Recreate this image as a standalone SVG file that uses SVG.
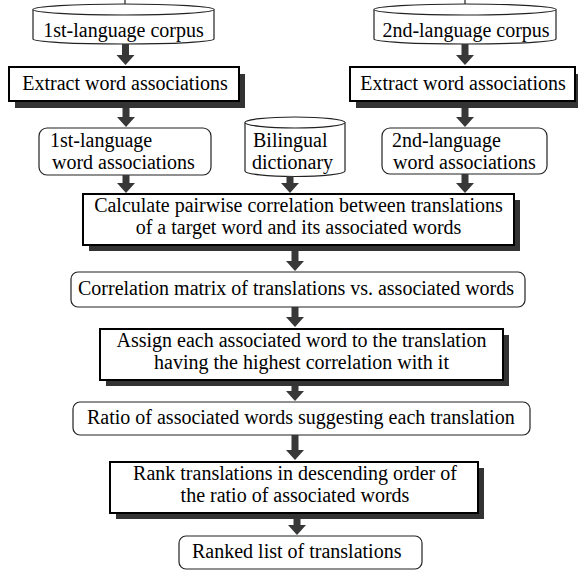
<svg xmlns="http://www.w3.org/2000/svg" width="578" height="571" viewBox="0 0 578 571">
<style>
text{font-family:"Liberation Serif","Times New Roman",serif;font-size:20px;fill:#000}
.c{text-anchor:middle}
.proc{fill:#fff;stroke:#000;stroke-width:2}
.shadow{fill:#333}
.data{fill:#fff;stroke:#222;stroke-width:1.2}
.cyl{fill:#fff;stroke:#222;stroke-width:1.2}
.arr{fill:#383838}
</style>
<rect width="578" height="571" fill="#fff"/>

<g id="corpus1">
<line x1="125" y1="0" x2="125" y2="4" stroke="#222" stroke-width="1.2"/>
<path class="cyl" d="M33,9.5 A90.5,5.5 0 0 1 214,9.5 L214,39 A90.5,5 0 0 1 33,39 Z"/>
<path class="cyl" fill="none" d="M33,9.5 A90.5,5.5 0 0 0 214,9.5"/>
<text x="123.5" y="37" class="c">1st-language corpus</text>
</g>

<g id="corpus2">
<line x1="465" y1="0" x2="465" y2="4" stroke="#222" stroke-width="1.2"/>
<path class="cyl" d="M374,9.5 A91,5.5 0 0 1 556,9.5 L556,39 A91,5 0 0 1 374,39 Z"/>
<path class="cyl" fill="none" d="M374,9.5 A91,5.5 0 0 0 556,9.5"/>
<text x="466" y="37" class="c">2nd-language corpus</text>
</g>

<g id="extract1">
<rect class="shadow" x="15" y="74" width="230" height="34"/>
<rect class="proc" x="9" y="67" width="230" height="34"/>
<text x="125" y="90" class="c">Extract word associations</text>
</g>

<g id="extract2">
<rect class="shadow" x="356" y="74" width="225" height="34"/>
<rect class="proc" x="350" y="67" width="225" height="34"/>
<text x="463" y="90" class="c">Extract word associations</text>
</g>

<g id="assoc1">
<rect class="data" x="39" y="128" width="172" height="47" rx="8"/>
<text x="50" y="146.5">1st-language</text>
<text x="52" y="169">word associations</text>
</g>

<g id="dictionary">
<path class="cyl" d="M245,122.5 A50,5.5 0 0 1 345,122.5 L345,171 A50,5.5 0 0 1 245,171 Z"/>
<path class="cyl" fill="none" d="M245,122.5 A50,5.5 0 0 0 345,122.5"/>
<text x="253" y="146.5">Bilingual</text>
<text x="252" y="169">dictionary</text>
</g>

<g id="assoc2">
<rect class="data" x="382" y="128" width="165" height="46" rx="8"/>
<text x="392" y="146.5">2nd-language</text>
<text x="393" y="169">word associations</text>
</g>

<g id="calculate">
<rect class="shadow" x="89" y="200" width="431" height="51"/>
<rect class="proc" x="83" y="194" width="431" height="51"/>
<text x="298.5" y="211.5" class="c">Calculate pairwise correlation between translations</text>
<text x="298.5" y="234" class="c">of a target word and its associated words</text>
</g>

<g id="matrix">
<rect class="data" x="71" y="272" width="454" height="35" rx="7"/>
<text x="78" y="295">Correlation matrix of translations vs. associated words</text>
</g>

<g id="assign">
<rect class="shadow" x="106" y="335" width="403" height="51"/>
<rect class="proc" x="100" y="329" width="403" height="51"/>
<text x="301.5" y="346.5" class="c">Assign each associated word to the translation</text>
<text x="301.5" y="369" class="c">having the highest correlation with it</text>
</g>

<g id="ratio">
<rect class="data" x="73" y="402" width="457" height="33" rx="7"/>
<text x="87" y="424">Ratio of associated words suggesting each translation</text>
</g>

<g id="rank">
<rect class="shadow" x="116" y="468" width="368" height="51"/>
<rect class="proc" x="110" y="462" width="368" height="51"/>
<text x="295" y="479.5" class="c">Rank translations in descending order of</text>
<text x="295" y="502" class="c">the ratio of associated words</text>
</g>

<g id="ranked">
<rect class="data" x="179" y="536" width="243" height="33" rx="7"/>
<text x="192" y="558">Ranked list of translations</text>
</g>

<g id="connectors" class="arr">
<polygon points="122,44 129,44 129,55 134.5,55 125.5,65 116.5,55 122,55"/>
<polygon points="461.5,44 468.5,44 468.5,55 474,55 465,65 456,55 461.5,55"/>
<polygon points="122.5,108 129.5,108 129.5,117 135,117 126,127 117,117 122.5,117"/>
<polygon points="461.5,108 468.5,108 468.5,117 474,117 465,127 456,117 461.5,117"/>
<polygon points="122.5,175 129.5,175 129.5,183 135,183 126,193 117,183 122.5,183"/>
<polygon points="286.5,176 293.5,176 293.5,183 299,183 290,193 281,183 286.5,183"/>
<polygon points="461.5,174 468.5,174 468.5,183 474,183 465,193 456,183 461.5,183"/>
<polygon points="291.5,251 298.5,251 298.5,261 304,261 295,271 286,261 291.5,261"/>
<polygon points="291.5,307 298.5,307 298.5,317 304,317 295,327 286,317 291.5,317"/>
<polygon points="291.5,386 298.5,386 298.5,391 304,391 295,401 286,391 291.5,391"/>
<polygon points="291.5,435 298.5,435 298.5,450 304,450 295,460 286,450 291.5,450"/>
<polygon points="293.5,519 300.5,519 300.5,525 306,525 297,535 288,525 293.5,525"/>
</g>
</svg>
